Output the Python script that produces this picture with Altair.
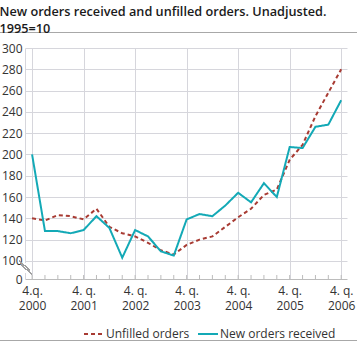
import json
import altair as alt
import pandas as pd

# ---- data ----
quarters = list(range(25))  # 4.q.2000 ... 4.q.2006
new_orders = [200, 128, 128, 126, 129, 142, 131, 103, 129, 123, 109, 105, 139,
              144, 142, 152, 164, 155, 173, 160, 207, 206, 226, 228, 251]
unfilled = [140, 138, 143, 142, 139, 149, 132, 126, 123, 117, 110, 106, 115,
            120, 123, 132, 141, 149, 162, 167, 195, 209, 236, 258, 280]
series_names = ["Unfilled orders", "New orders received"]
tick_labels = [["4.q.", "2000"], ["4. q.", "2001"], ["4. q.", "2002"],
               ["4. q.", "2003"], ["4. q.", "2004"], ["4. q.", "2005"],
               ["4. q.", "2006"]]
y_ticks = [100, 120, 140, 160, 180, 200, 220, 240, 260, 280, 300]
title_lines = ["New orders received and unfilled orders. Unadjusted.", "1995=10"]

W, H = 322, 231
FONT = "Open Sans"
TXT = "#333333"
GRID = "#d6d6dc"
RED = "#a83b33"
TEAL = "#13a9b6"

lines_df = pd.DataFrame({
    "q": quarters * 2,
    "value": unfilled + new_orders,
    "series": [series_names[0]] * len(quarters) + [series_names[1]] * len(quarters),
})
ticks_df = pd.DataFrame({"q": quarters})

xscale = alt.Scale(domain=[-0.55, 24.45], nice=False, zero=False)
yscale = alt.Scale(domain=[83, 300], nice=False, zero=False)

label_expr = f"datum.value % 4 == 0 ? {json.dumps(tick_labels)}[datum.value / 4] : ''"

x_axis = alt.Axis(
    values=quarters, title=None, ticks=False, labelExpr=label_expr,
    gridOpacity={"condition": {"test": "datum.value % 4 == 0", "value": 1}, "value": 0},
    gridColor=GRID, domainColor="#bcbcbc", labelPadding=6, labelFont=FONT,
    labelFontSize=12, labelColor=TXT, labelLineHeight=15, labelAlign="center",
    labelBaseline="top", labelOverlap=False, labelFlush=False,
)
y_axis = alt.Axis(
    values=[83] + y_ticks, title=None, ticks=False,
    labelExpr="datum.value < 90 ? '0' : datum.label",
    gridOpacity={"condition": {"test": "datum.value < 90", "value": 0}, "value": 1},
    gridColor=GRID, domainColor=GRID, labelPadding=3, labelFont=FONT,
    labelFontSize=12, labelColor=TXT, labelOverlap=False, labelFlush=False,
)

legend = alt.Legend(
    title=None, orient="none", legendX=58, legendY=275, direction="horizontal",
    symbolType="stroke", symbolStrokeWidth=2, symbolSize=400, labelFont=FONT,
    labelFontSize=12, labelColor=TXT, columnPadding=4, labelOffset=1,
)

lines = alt.Chart(lines_df).mark_line(strokeWidth=2).encode(
    x=alt.X("q:Q", scale=xscale, axis=x_axis),
    y=alt.Y("value:Q", scale=yscale, axis=y_axis),
    color=alt.Color("series:N", sort=series_names,
                    scale=alt.Scale(domain=series_names, range=[RED, TEAL]),
                    legend=legend),
    strokeDash=alt.StrokeDash("series:N", sort=series_names,
                              scale=alt.Scale(domain=series_names, range=[[4, 3], [1, 0]]),
                              legend=legend),
)

minor_ticks = alt.Chart(ticks_df).mark_rule(color="#bcbcbc", strokeWidth=1).encode(
    x=alt.X("q:Q", scale=xscale), y=alt.value(H - 4), y2=alt.value(H),
)

# axis break marks
gap = alt.Chart(ticks_df).mark_rule(color="white", strokeWidth=3).encode(
    x=alt.value(0), y=alt.value(215), y2=alt.value(225))
brk1 = alt.Chart(ticks_df).mark_rule(color="#a0a0a0", strokeWidth=1).encode(
    x=alt.value(-6), x2=alt.value(5), y=alt.value(213), y2=alt.value(222))
brk2 = alt.Chart(ticks_df).mark_rule(color="#a0a0a0", strokeWidth=1).encode(
    x=alt.value(-4), x2=alt.value(7), y=alt.value(217), y2=alt.value(226))

# decorative separators
top_rule = alt.Chart(ticks_df).mark_rule(color="#a8a8a8", strokeWidth=1).encode(
    x=alt.value(-25), x2=alt.value(332), y=alt.value(-15.5))
bottom_rule = alt.Chart(ticks_df).mark_rule(color="#a8a8a8", strokeWidth=1).encode(
    x=alt.value(-25), x2=alt.value(332), y=alt.value(292.5))

chart = alt.layer(
    minor_ticks, gap, brk1, brk2, top_rule, bottom_rule, lines
).properties(
    width=W, height=H,
    title=alt.TitleParams(text=title_lines, anchor="start", font=FONT, fontSize=12.7,
                          fontWeight=600, color="#1a1a1a", lineHeight=17, offset=-4),
    autosize=alt.AutoSizeParams(type="none"),
    padding={"left": 25, "top": 48, "right": 10, "bottom": 64},
).configure_view(stroke=None)

chart.save("out.html", embed_options={"renderer": "svg", "actions": False})
